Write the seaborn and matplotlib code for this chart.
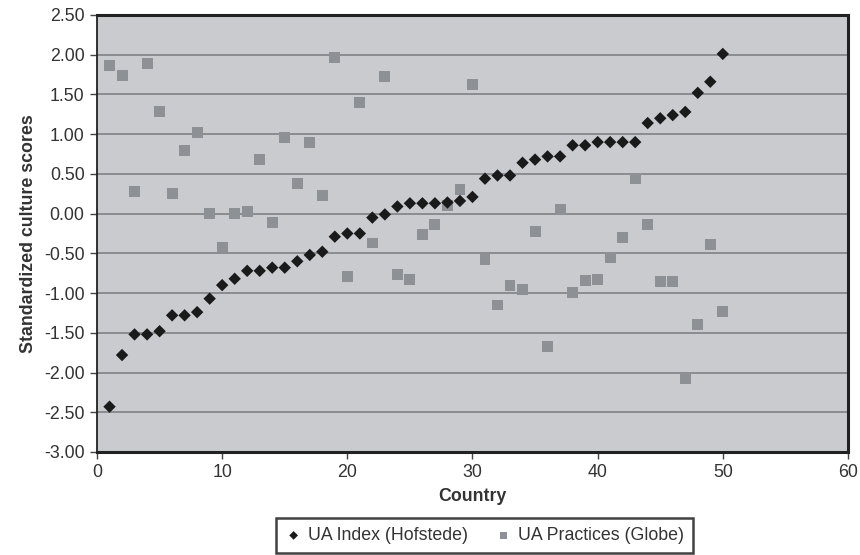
import numpy as np
import pandas as pd
import matplotlib
matplotlib.use('Agg')
import matplotlib.pyplot as plt
import seaborn as sns

# data (country index 1..50)
country = list(range(1, 51))
ua_hofstede = [-2.43, -1.78, -1.52, -1.52, -1.48, -1.28, -1.28, -1.24, -1.07, -0.90,
               -0.82, -0.72, -0.72, -0.68, -0.68, -0.60, -0.52, -0.48, -0.29, -0.25,
               -0.25, -0.05, -0.01, 0.09, 0.13, 0.13, 0.13, 0.14, 0.16, 0.21,
               0.44, 0.48, 0.48, 0.64, 0.68, 0.72, 0.72, 0.86, 0.86, 0.90,
               0.90, 0.90, 0.90, 1.14, 1.20, 1.24, 1.28, 1.52, 1.66, 2.01]
ua_globe = [1.86, 1.74, 0.28, 1.89, 1.29, 0.25, 0.80, 1.02, 0.00, -0.42,
            0.00, 0.03, 0.68, -0.11, 0.96, 0.38, 0.89, 0.23, 1.97, -0.79,
            1.40, -0.37, 1.73, -0.77, -0.83, -0.26, -0.14, 0.10, 0.30, 1.62,
            -0.58, -1.15, -0.90, -0.95, -0.22, -1.67, 0.05, -0.99, -0.84, -0.83,
            -0.55, -0.30, 0.44, -0.14, -0.86, -0.86, -2.07, -1.39, -0.39, -1.23]
labels = ['UA Index (Hofstede)', 'UA Practices (Globe)']

df = pd.DataFrame({'Country': country, 'Hofstede': ua_hofstede, 'Globe': ua_globe})

sns.set_style('white')
plt.rcParams['font.family'] = ['Liberation Sans', 'DejaVu Sans']
fs = 12.8

fig = plt.figure(figsize=(8.6, 5.55), dpi=100)
ax = fig.add_axes([0.1128, 0.1856, 0.8732, 0.7874])
ax.set_facecolor('#c9cbce')

sns.scatterplot(data=df, x='Country', y='Globe', marker='s', s=62, color='#8d9094',
                edgecolor='none', label=labels[1], ax=ax, zorder=3)
sns.scatterplot(data=df, x='Country', y='Hofstede', marker='D', s=40, color='#1a1a1a',
                edgecolor='none', label=labels[0], ax=ax, zorder=4)

ax.set_xlim(0, 60)
ax.set_ylim(-3.0, 2.5)
ax.set_xticks(np.arange(0, 61, 10))
ax.set_yticks(np.arange(-3.0, 2.51, 0.5))
ax.set_yticklabels(['%.2f' % v for v in np.arange(-3.0, 2.51, 0.5)])
ax.yaxis.grid(True, color='#8a8c8f', linewidth=1.4)
ax.set_axisbelow(True)

for side in ['top', 'right', 'bottom']:
    ax.spines[side].set_color('#222222')
    ax.spines[side].set_linewidth(2.2)
ax.spines['left'].set_color('#222222')
ax.spines['left'].set_linewidth(1.3)

ax.tick_params(axis='both', direction='out', length=5, width=1, color='#444444',
               labelsize=fs, labelcolor='#333333', left=True, bottom=True, pad=4)
ax.set_xlabel('Country', fontsize=fs, fontweight='bold', color='#333333', labelpad=5)
ax.set_ylabel('Standardized culture scores', fontsize=fs, fontweight='bold',
              color='#333333', labelpad=5)

handles, lbls = ax.get_legend_handles_labels()
order = [lbls.index(labels[0]), lbls.index(labels[1])]
ax.get_legend().remove()
leg = fig.legend([handles[i] for i in order], [lbls[i] for i in order],
                 loc='center', bbox_to_anchor=(0.563, 0.035), ncol=2, frameon=True,
                 fancybox=False, edgecolor='#111111', fontsize=fs, handletextpad=0.3,
                 columnspacing=1.5, borderpad=0.5, markerscale=0.7, handlelength=1.0)
leg.get_frame().set_linewidth(1.8)
for t in leg.get_texts():
    t.set_color('#333333')

fig.savefig('out.png', dpi=100)
